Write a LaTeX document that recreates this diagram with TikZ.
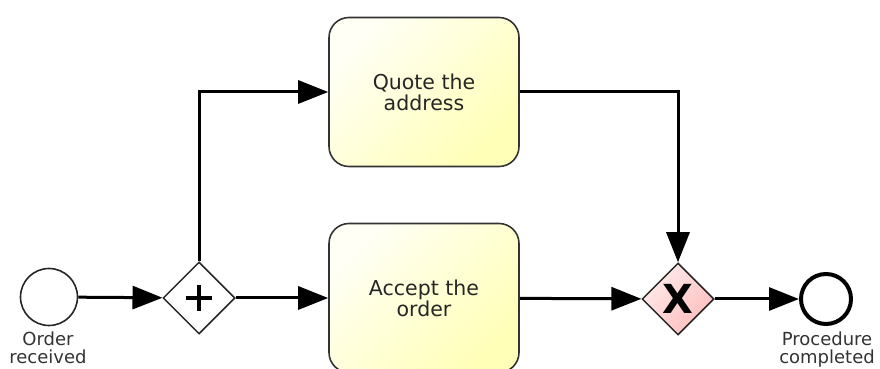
\documentclass[tikz,border=0pt]{standalone}
\usepackage{fontspec}
\setmainfont{DejaVu Sans}
\usetikzlibrary{shapes.geometric,arrows.meta}
\begin{document}
\begin{tikzpicture}[x=1pt,y=1pt,
  flow/.style={line width=3pt,-{Triangle[length=30pt,width=23pt]}},
  task/.style={rectangle,rounded corners=20pt,draw=black!80,line width=1.6pt,
    minimum width=190pt,minimum height=149pt,align=center,
    left color=yellow!4,right color=yellow!28,shading angle=45,
    text=black!85,font=\fontsize{20.5}{21}\selectfont},
  gate/.style={diamond,draw=black!85,line width=1.5pt,minimum size=72pt,inner sep=0pt},
  lbl/.style={align=center,font=\fontsize{18}{18.5}\selectfont,text=black!80,inner sep=0pt}
]
\useasboundingbox (0,0) rectangle (880,369);

% events
\node[circle,draw=black!85,line width=1.6pt,minimum size=57pt,inner sep=0pt,fill=white] (start) at (49,72) {};
\node[circle,draw=black,line width=4pt,minimum size=50pt,inner sep=0pt,fill=white] (finish) at (826,70) {};

% gateways
\node[gate,fill=white] (split) at (199,71) {};
\draw[line width=4.5pt] (split.center) ++(-13pt,0) -- ++(26pt,0);
\draw[line width=4.5pt] (split.center) ++(0,-13pt) -- ++(0,26pt);
\node[gate,left color=red!8,right color=red!26,shading angle=45] (merge) at (678,70) {};
\node[font=\fontsize{40}{40}\selectfont\bfseries,inner sep=0pt] (mergex) at (merge.center) {X};

% tasks
\node[task] (quote) at (424,277) {Quote the\\address};
\node[task] (accept) at (424,71) {Accept the\\order};

% labels under the events
\node[lbl,anchor=base] (startlbl) at (48,5) {Order\\received};
\node[lbl,anchor=base] (finishlbl) at (827,5) {Procedure\\completed};

% sequence flows
\draw[flow] (start) -- (split);
\draw[flow] (split.north) |- (quote.west);
\draw[flow] (split) -- (accept);
\draw[flow] (quote.east) -| (merge.north);
\draw[flow] (accept) -- (merge);
\draw[flow] (merge) -- (finish);
\end{tikzpicture}
\end{document}
